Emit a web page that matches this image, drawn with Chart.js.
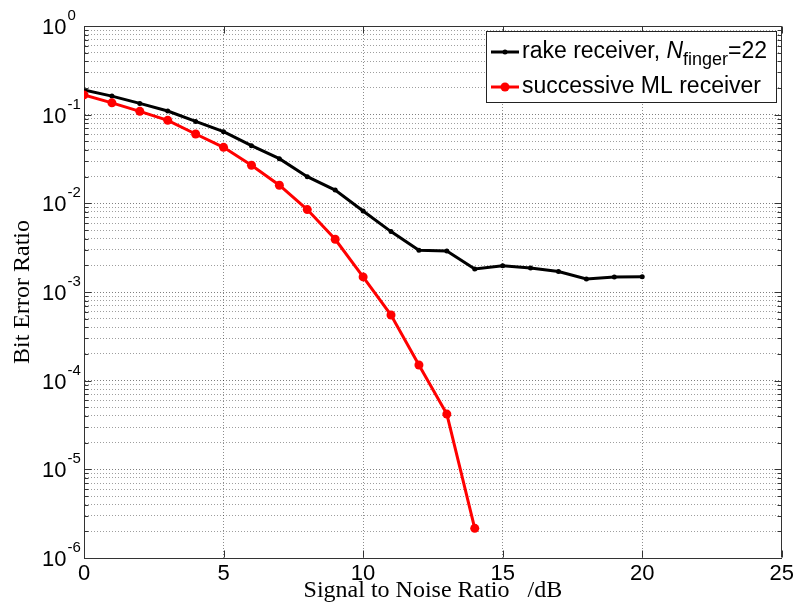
<!DOCTYPE html>
<html>
<head>
<meta charset="utf-8">
<script src="https://cdn.jsdelivr.net/npm/chart.js@4.4.1/dist/chart.umd.min.js"></script>
<style>
  html, body { margin: 0; padding: 0; background: #fff; }
  #wrap { width: 797px; height: 613px; }
</style>
</head>
<body>
<div id="wrap"><canvas id="berChart" width="797" height="613"></canvas></div>
<script>
// values (SNR in dB, BER)
const snr = [0, 1, 2, 3, 4, 5, 6, 7, 8, 9, 10, 11, 12, 13, 14, 15, 16, 17, 18, 19, 20];
const rakeBer = [0.19, 0.162, 0.134, 0.110, 0.084, 0.0643, 0.0447, 0.0319, 0.0200, 0.0141, 0.0082,
                 0.0048, 0.00295, 0.0029, 0.00182, 0.00198, 0.00187, 0.0017, 0.0014, 0.00148, 0.00149];
const mlBer = [0.167, 0.136, 0.109, 0.0863, 0.0605, 0.0428, 0.0269, 0.0160, 0.0085, 0.00393, 0.00148,
               0.00055, 0.000150, 0.000042, 0.00000216];
const xTickValues = [0, 5, 10, 15, 20, 25];
const yExponents = [0, -1, -2, -3, -4, -5, -6];
const rakeLabel = ["rake receiver, ", "N", "finger", "=22"];
const mlLabel = "successive ML receiver";

const SANS = '"Liberation Sans", Arial, Helvetica, sans-serif';
const SERIF = '"Liberation Serif", "Times New Roman", Times, serif';

function toPoints(xs, ys) {
    return ys.map((v, i) => ({ x: xs[i], y: v }));
}

// MATLAB-ish frame: box, inner ticks, 10^n labels, legend
const matlabFrame = {
    id: 'matlabFrame',
    afterDraw(chart) {
        const { ctx, chartArea: a, scales: { x, y } } = chart;
        ctx.save();
        ctx.strokeStyle = '#333';
        ctx.lineWidth = 1;

        const L = Math.round(a.left) + 0.5, R = Math.round(a.right) - 0.5;
        const T = Math.round(a.top) + 0.5, B = Math.round(a.bottom) - 0.5;
        ctx.beginPath();
        ctx.moveTo(L, T); ctx.lineTo(R, T); ctx.lineTo(R, B);
        ctx.stroke();

        // inner ticks
        ctx.beginPath();
        y.ticks.forEach(t => {
            const py = Math.round(y.getPixelForValue(t.value)) + 0.5;
            const len = t.major ? 7 : 4;
            ctx.moveTo(L, py); ctx.lineTo(L + len, py);
            ctx.moveTo(R, py); ctx.lineTo(R - len, py);
        });
        xTickValues.forEach(v => {
            const px = Math.round(x.getPixelForValue(v)) + 0.5;
            ctx.moveTo(px, B); ctx.lineTo(px, B - 7);
            ctx.moveTo(px, T); ctx.lineTo(px, T + 7);
        });
        ctx.stroke();

        // y tick labels 10^n
        ctx.fillStyle = '#000';
        ctx.textAlign = 'left';
        ctx.textBaseline = 'alphabetic';
        yExponents.forEach(e => {
            const py = y.getPixelForValue(Math.pow(10, e));
            ctx.font = '22px ' + SANS;
            ctx.fillText('10', 42, py + 8);
            const w = ctx.measureText('10').width;
            ctx.font = '15px ' + SANS;
            ctx.fillText(String(e), 42 + w + 1, py - 6);
        });

        // legend
        const bx = 486, by = 31, bw = 291, bh = 72;
        ctx.fillStyle = '#fff';
        ctx.fillRect(bx, by, bw, bh);
        ctx.strokeStyle = '#222';
        ctx.strokeRect(bx + 0.5, by + 0.5, bw - 1, bh - 1);

        const rows = [
            { base: 58, color: '#000', r: 2.5 },
            { base: 93, color: 'rgb(255,0,0)', r: 4.5 }
        ];
        rows.forEach(row => {
            const cy = row.base - 6;
            ctx.strokeStyle = row.color;
            ctx.fillStyle = row.color;
            ctx.lineWidth = 3;
            ctx.beginPath();
            ctx.moveTo(491, cy); ctx.lineTo(519, cy);
            ctx.stroke();
            ctx.beginPath();
            ctx.arc(505, cy, row.r, 0, Math.PI * 2);
            ctx.fill();
        });

        ctx.fillStyle = '#000';
        let tx = 522;
        ctx.font = '23px ' + SANS;
        ctx.fillText(rakeLabel[0], tx, rows[0].base);
        tx += ctx.measureText(rakeLabel[0]).width;
        ctx.font = 'italic 23px ' + SANS;
        ctx.fillText(rakeLabel[1], tx, rows[0].base);
        tx += ctx.measureText(rakeLabel[1]).width;
        ctx.font = '18px ' + SANS;
        ctx.fillText(rakeLabel[2], tx, rows[0].base + 7);
        tx += ctx.measureText(rakeLabel[2]).width;
        ctx.font = '23px ' + SANS;
        ctx.fillText(rakeLabel[3], tx, rows[0].base);

        ctx.fillText(mlLabel, 522, rows[1].base);
        ctx.restore();
    }
};

const gridDash = [1, 2];

new Chart(document.getElementById('berChart'), {
    type: 'line',
    data: {
        datasets: [
            {
                label: 'successive ML receiver',
                data: toPoints(snr, mlBer),
                borderColor: 'rgb(255,0,0)',
                backgroundColor: 'rgb(255,0,0)',
                borderWidth: 3,
                pointRadius: 4.5,
                pointBorderWidth: 0,
                tension: 0,
                order: 0
            },
            {
                label: 'rake receiver, Nfinger=22',
                data: toPoints(snr, rakeBer),
                borderColor: '#000',
                backgroundColor: '#000',
                borderWidth: 3,
                pointRadius: 2.5,
                pointBorderWidth: 0,
                tension: 0,
                order: 1
            }
        ]
    },
    options: {
        responsive: false,
        animation: false,
        devicePixelRatio: 1,
        layout: { padding: { top: 26, right: 15, left: 0, bottom: 0 } },
        plugins: {
            legend: { display: false },
            tooltip: { enabled: false }
        },
        scales: {
            x: {
                type: 'linear',
                min: 0,
                max: 25,
                afterBuildTicks: (scale) => {
                    scale.ticks = xTickValues.map(v => ({ value: v }));
                },
                afterFit: (scale) => { scale.height = 55; },
                ticks: {
                    color: '#000',
                    font: { family: SANS, size: 22 },
                    padding: 3,
                    maxRotation: 0,
                    autoSkip: false
                },
                grid: {
                    drawTicks: false,
                    color: (c) => (c.tick && (c.tick.value === 0 || c.tick.value === 25)) ? 'rgba(0,0,0,0)' : 'rgba(0,0,0,0.45)'
                },
                border: { color: '#333', width: 1, dash: gridDash },
                title: {
                    display: true,
                    // non-breaking spaces so the gap before /dB is kept
                    text: 'Signal to Noise Ratio\u00A0\u00A0\u00A0/dB',
                    color: '#000',
                    font: { family: SERIF, size: 24 },
                    padding: { top: 0, bottom: 8 }
                }
            },
            y: {
                type: 'logarithmic',
                min: 1e-6,
                max: 1,
                afterBuildTicks: (scale) => {
                    const t = [];
                    for (let e = -6; e < 0; e++) {
                        for (let m = 1; m <= 9; m++) {
                            t.push({ value: m * Math.pow(10, e), major: m === 1 });
                        }
                    }
                    t.push({ value: 1, major: true });
                    scale.ticks = t;
                },
                afterFit: (scale) => { scale.width = 84; },
                ticks: { display: false, autoSkip: false },
                grid: {
                    drawTicks: false,
                    color: (c) => (c.tick && c.tick.major) ? 'rgba(0,0,0,0.5)' : 'rgba(0,0,0,0.38)'
                },
                border: { color: '#333', width: 1, dash: gridDash },
                title: {
                    display: true,
                    text: 'Bit Error Ratio',
                    color: '#000',
                    font: { family: SERIF, size: 24 },
                    padding: { top: 8, bottom: 0 }
                }
            }
        }
    },
    plugins: [matlabFrame]
});
</script>
</body>
</html>
